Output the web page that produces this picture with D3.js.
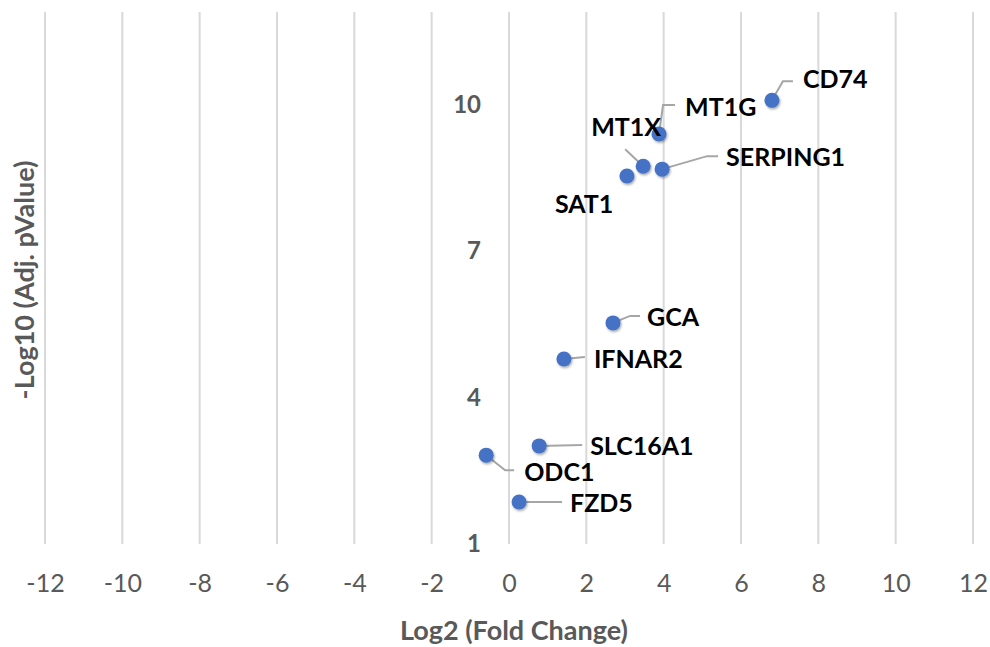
<!DOCTYPE html>
<html>
<head>
<meta charset="utf-8">
<script src="https://cdn.jsdelivr.net/npm/d3@7"></script>
<style>
  body { margin: 0; background: #fff; }
  text { font-family: Lato, "Open Sans", sans-serif; }
</style>
</head>
<body>
<script>
// genes and values
var genes = ["CD74", "MT1G", "MT1X", "SERPING1", "SAT1", "GCA", "IFNAR2", "SLC16A1", "ODC1", "FZD5"];
var log2fc = [6.8, 3.88, 3.47, 3.96, 3.05, 2.69, 1.42, 0.78, -0.59, 0.26];
var negLog10p = [10.09, 9.40, 8.74, 8.68, 8.54, 5.53, 4.79, 3.01, 2.82, 1.86];

var xTicks = [-12, -10, -8, -6, -4, -2, 0, 2, 4, 6, 8, 10, 12];
var yTicks = [1, 4, 7, 10];

// label placement relative to the point (px): text anchor dx,dy and leader elbow
var labelOffsets = [
  { dx: 31, dy: -21, leader: [[11, -19], [21, -19]] },
  { dx: 26, dy: -27, leader: [[4, -29], [16, -29]] },
  { dx: -52, dy: -39, leader: [[-18, -17]] },
  { dx: 64, dy: -12, leader: [[45, -13], [56, -13]] },
  { dx: -72, dy: 28, leader: [] },
  { dx: 34, dy: -6, leader: [[17, -7], [27, -7]] },
  { dx: 30, dy: 0, leader: [[21, -2]] },
  { dx: 51, dy: 0, leader: [[43, -1]] },
  { dx: 38, dy: 17, leader: [[19, 15], [28, 15]] },
  { dx: 51, dy: 1, leader: [[43, 0]] }
];

var points = genes.map(function(g, i) {
  return { gene: g, x: log2fc[i], y: negLog10p[i], off: labelOffsets[i] };
});

var w = 990, h = 647;
var svg = d3.select("body").append("svg").attr("width", w).attr("height", h);

var x = d3.scaleLinear().domain([-12, 12]).range([45, 973]);
var y = d3.scaleLinear().domain([1, 11.9]).range([544, 12]);

var defs = svg.append("defs");
var f = defs.append("filter").attr("id", "sh").attr("x", "-50%").attr("y", "-50%").attr("width", "200%").attr("height", "200%");
f.append("feDropShadow").attr("dx", 1).attr("dy", 1.5).attr("stdDeviation", 1.2)
  .attr("flood-color", "#000").attr("flood-opacity", 0.35);

// vertical gridlines
svg.append("g")
  .selectAll("line")
  .data(xTicks)
  .enter()
  .append("line")
  .attr("x1", d => x(d)).attr("x2", d => x(d))
  .attr("y1", y(11.9)).attr("y2", y(1))
  .attr("stroke", "#d9d9d9")
  .attr("stroke-width", 2);

// x axis tick labels (plain hyphen for negatives, like the original)
var xAxis = d3.axisBottom(x).tickValues(xTicks).tickSize(0).tickPadding(0)
  .tickFormat(d => String(d));
var gx = svg.append("g").attr("transform", "translate(0,592)").call(xAxis);
gx.select(".domain").remove();
gx.selectAll("text")
  .attr("dy", 0)
  .attr("fill", "#595959")
  .style("font-size", "25px")
  .style("font-family", "Lato, sans-serif");

// y axis tick labels, crossing at x = 0
var yAxis = d3.axisLeft(y).tickValues(yTicks).tickSize(0).tickPadding(0);
var gy = svg.append("g").attr("transform", "translate(" + (x(0) - 28) + ",0)").call(yAxis);
gy.select(".domain").remove();
gy.selectAll("text")
  .attr("fill", "#595959")
  .style("font-size", "24px")
  .style("font-weight", "bold")
  .style("font-family", "Lato, sans-serif");

// leader lines
svg.append("g")
  .selectAll("path")
  .data(points.filter(d => d.off.leader.length))
  .enter()
  .append("path")
  .attr("d", function(d) {
    var px = x(d.x), py = y(d.y);
    return "M" + px + "," + py + d.off.leader.map(p => "L" + (px + p[0]) + "," + (py + p[1])).join("");
  })
  .attr("fill", "none")
  .attr("stroke", "#a6a6a6")
  .attr("stroke-width", 2);

// markers
svg.append("g")
  .selectAll("circle")
  .data(points)
  .enter()
  .append("circle")
  .attr("cx", d => x(d.x))
  .attr("cy", d => y(d.y))
  .attr("r", 7.5)
  .attr("fill", "#4472c4")
  .attr("filter", "url(#sh)");

// data labels
svg.append("g")
  .selectAll("text")
  .data(points)
  .enter()
  .append("text")
  .attr("x", d => x(d.x) + d.off.dx)
  .attr("y", d => y(d.y) + d.off.dy)
  .attr("dy", "0.36em")
  .style("font-size", "25px")
  .style("font-weight", "bold")
  .attr("fill", "#000")
  .text(d => d.gene);

// axis titles
svg.append("text")
  .attr("x", 514).attr("y", 640)
  .attr("text-anchor", "middle")
  .attr("fill", "#595959")
  .style("font-size", "27px")
  .style("font-weight", "bold")
  .text("Log2 (Fold Change)");

svg.append("text")
  .attr("transform", "translate(34,280) rotate(-90)")
  .attr("text-anchor", "middle")
  .attr("fill", "#595959")
  .style("font-size", "27px")
  .style("font-weight", "bold")
  .text("-Log10 (Adj. pValue)");
</script>
</body>
</html>
